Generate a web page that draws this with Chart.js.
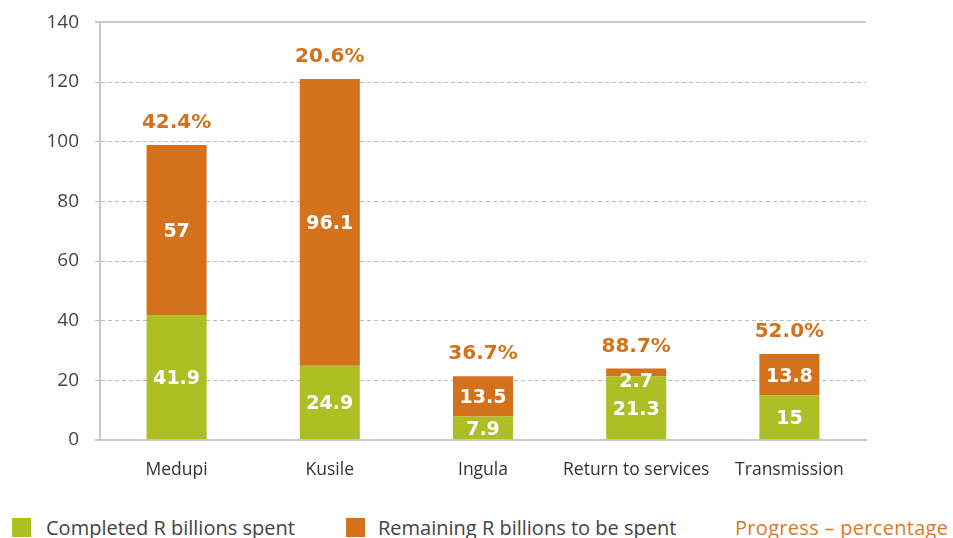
<!DOCTYPE html>
<html>
<head>
<meta charset="utf-8">
<script src="https://cdn.jsdelivr.net/npm/chart.js@4/dist/chart.umd.min.js"></script>
<style>
  html, body { margin: 0; padding: 0; background: #fff; }
  #wrap { position: relative; width: 953px; height: 538px; overflow: hidden; }
  #chart { position: absolute; left: 0; top: -5px; }
  .legend { position: absolute; top: 514px; font-family: 'Open Sans', sans-serif; font-size: 20px; color: #444; white-space: nowrap; }
  .legend .box { position: absolute; top: 4px; width: 19px; height: 19px; }
</style>
</head>
<body>
<div id="wrap">
  <canvas id="chart" width="953" height="505"></canvas>
  <div class="legend" style="left:12px"><span class="box" style="left:0;background:#AEBE25"></span><span style="margin-left:34px">Completed R billions spent</span></div>
  <div class="legend" style="left:346px"><span class="box" style="left:0;background:#D4711B"></span><span style="margin-left:32px">Remaining R billions to be spent</span></div>
  <div class="legend" style="left:735px;color:#DA7A2B;letter-spacing:0.3px">Progress – percentage</div>
</div>
<script>
const categories = ['Medupi', 'Kusile', 'Ingula', 'Return to services', 'Transmission'];
const completed = [41.9, 24.9, 7.9, 21.3, 15];
const remaining = [57, 96.1, 13.5, 2.7, 13.8];
const progress = ['42.4%', '20.6%', '36.7%', '88.7%', '52.0%'];
const yTicks = [0, 20, 40, 60, 80, 100, 120, 140];

const GREEN = '#AEBE25';
const ORANGE = '#D4711B';

// writes the segment values and the progress figure on top of each bar
const barLabels = {
  id: 'barLabels',
  afterDatasetsDraw(chart) {
    const ctx = chart.ctx;
    ctx.save();
    ctx.textAlign = 'center';
    ctx.textBaseline = 'middle';
    const metaA = chart.getDatasetMeta(0);
    const metaB = chart.getDatasetMeta(1);
    ctx.font = 'bold 19px "DejaVu Sans"';
    ctx.fillStyle = '#fff';
    [metaA, metaB].forEach((meta, di) => {
      const vals = di === 0 ? completed : remaining;
      meta.data.forEach((bar, i) => {
        let y = (bar.y + bar.base) / 2 + 2;
        if (bar.base - bar.y < 22) y = bar.base + 6;
        ctx.fillText(String(vals[i]), bar.x, y);
      });
    });
    ctx.font = 'bold 20px "DejaVu Sans"';
    ctx.fillStyle = ORANGE;
    metaB.data.forEach((bar, i) => {
      ctx.fillText(progress[i], bar.x, bar.y - 22);
    });
    ctx.restore();
  }
};

const edge = v => v === 0 || v === 140;

new Chart(document.getElementById('chart'), {
  type: 'bar',
  data: {
    labels: categories,
    datasets: [
      { label: 'Completed R billions spent', data: completed, backgroundColor: GREEN },
      { label: 'Remaining R billions to be spent', data: remaining, backgroundColor: ORANGE }
    ]
  },
  options: {
    responsive: false,
    animation: false,
    categoryPercentage: 1,
    barPercentage: 0.392,
    layout: { padding: { top: 18, right: 87, left: 0, bottom: 0 } },
    plugins: { legend: { display: false }, tooltip: { enabled: false } },
    scales: {
      x: {
        stacked: true,
        grid: { display: false, drawTicks: false },
        border: { display: true, color: '#c8c8c8', width: 2 },
        ticks: { color: '#333', font: { family: 'Open Sans', size: 17.5 }, padding: 20 },
        afterFit: s => { s.height = 60; }
      },
      y: {
        stacked: true,
        min: 0,
        max: 140,
        afterBuildTicks: s => { s.ticks = yTicks.map(v => ({ value: v })); },
        ticks: { color: '#444', font: { family: 'Open Sans', size: 19 }, padding: 16 },
        grid: {
          color: c => c.tick && edge(c.tick.value) ? '#c8c8c8' : '#bdbdbd',
          lineWidth: c => c.tick && edge(c.tick.value) ? 2 : 1,
          tickLength: 5
        },
        border: {
          color: '#c8c8c8',
          width: 2,
          dash: c => (c.tick && !edge(c.tick.value)) ? [4, 3] : []
        },
        afterFit: s => { s.width = 100; }
      }
    }
  },
  plugins: [barLabels]
});
</script>
</body>
</html>
